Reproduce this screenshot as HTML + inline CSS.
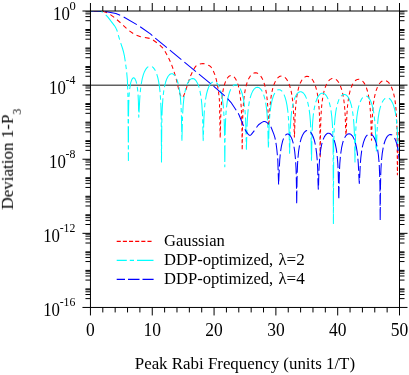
<!DOCTYPE html>
<html><head><meta charset="utf-8"><title>plot</title>
<style>
html,body{margin:0;padding:0;background:#fff;}
body{width:409px;height:375px;overflow:hidden;font-family:"Liberation Serif",serif;}
svg{display:block;}
text{font-family:"Liberation Serif",serif;fill:#000;}
</style></head><body>
<svg width="409" height="375" viewBox="0 0 409 375" style="will-change:transform">
<defs><clipPath id="clip"><rect x="90.45" y="11" width="309.05" height="296.45"/></clipPath></defs>
<rect x="0" y="0" width="409" height="375" fill="#fff"/>
<line x1="90.45" y1="85.22" x2="399.5" y2="85.22" stroke="#606060" stroke-width="1.5"/>
<g fill="none" stroke-width="1.05" stroke-linejoin="round" stroke-linecap="butt" clip-path="url(#clip)">
<path d="M93.81 11.01L98.64 11.06M102.53 11.32L106.4 12.45L107.08 12.76M110.37 14.66L114.19 17.33M116.99 19.77L120.5 22.75M123.19 25.28L126.47 28.44M129.34 30.82L133.19 33.46M136.52 35.3L139.9 36.57L141.03 36.85M144.87 37.49L149.6 38.38M153.04 40.02L156.84 42.71M159.79 45.01L162.4 47.54L162.99 48.23M164.97 51.16L167.03 54.92M168.6 57.98L170.36 61.8M171.64 64.9L173.05 68.75M174.09 71.86L175.29 75.7M176.2 78.81L177.14 82.62M177.81 85.68L178.65 89.47M179.42 92.55L179.9 94.07L180.95 96.38M183.18 96.93L184.76 93.1M185.85 89.99L187.08 86.14M188.13 83.03L189.4 79.18M190.52 76.07L192.25 72.25M193.82 69.19L194.9 67.37L195.9 66.07L196.36 65.63M199.84 64.05L201.4 63.69L202.9 63.61L204.59 63.82M208.21 65.14L209.9 66.06L210.4 66.45L210.9 66.98L211.66 68.03M213.31 71.07L214.94 74.9M215.91 78L216.82 81.81M217.44 84.86L218.07 88.59M218.47 91.56L218.89 95.19M219.2 98.11L219.4 100L219.43 101.58M219.49 104.27L219.56 107.58M219.62 110.26L219.69 113.58M219.74 116.26L219.81 119.58M219.87 122.26L219.94 125.58M219.99 128.26L220.06 131.57M220.12 134.26L220.19 137.57M220.26 135.73L220.35 132.38M220.42 129.67L220.51 126.33M220.57 123.63L220.66 120.3M220.72 117.6L220.85 114.2M220.96 111.44L221.14 107.98M221.32 105.16L221.59 101.62M221.87 98.71L222.31 95.07M222.76 92.08L223.48 88.32M224.25 85.24L225.57 81.39M227.16 78.35L228.45 76.77L229.55 75.95L230.65 75.55M234.07 76.89L235.32 78.47L236.45 80.52M237.66 83.63L238.72 87.45M239.36 90.51L239.97 94.23M240.35 97.19L240.73 100.8M240.97 103.67L241.21 107.18M241.38 110L241.52 113.42M241.64 116.19L241.73 119.53M241.79 122.23L241.87 125.57M241.93 128.25L241.97 131.51M242.01 134.14L242.05 137.4M242.08 140.03L242.12 143.28M242.15 145.92L242.19 149.17M242.22 148.19L242.27 144.93M242.3 142.29L242.35 139.02M242.38 136.38L242.42 133.12M242.46 130.48L242.5 127.22M242.54 124.57L242.64 121.2M242.72 118.48L242.82 115.12M242.94 112.36L243.11 108.91M243.28 106.09L243.54 102.56M243.81 99.66L244.22 96.04M244.64 93.05L245.31 89.32M246 86.25L247.14 82.41M248.39 79.31L249.85 76.69L250.64 75.62M253.48 73.27L254.84 72.85L256.17 72.85L257.5 73.25L258.06 73.55M260.71 76.07L262.15 78.38L262.84 79.8M264.03 82.9L265.12 86.73M265.79 89.8L266.43 93.53M266.84 96.5L267.23 100.12M267.5 103.01L267.75 106.54M267.91 109.35L268.09 112.8M268.19 115.55L268.29 118.91M268.37 121.63L268.5 125.01M268.94 124.06L269.19 120.54M269.39 117.69L269.57 114.23M269.71 111.44L269.93 107.94M270.15 105.08L270.49 101.5M270.83 98.56L271.37 94.87M271.93 91.83L272.82 88.03M273.79 84.93L275.45 81.1M277.45 78.19L278.72 77.03L280 76.31L281.46 76.01M284.93 77.39L286.08 78.57L287.63 80.88M289.06 83.97L290.32 87.81M291.07 90.89L291.8 94.65M292.25 97.64L292.69 101.28M292.97 104.19L293.25 107.73M293.45 110.58L293.62 114.02M293.75 116.81L293.85 120.17M293.93 122.89L294.03 126.25M294.11 128.97L294.22 132.35M294.31 135.08L294.42 137.55M294.51 134.81L294.62 131.43M294.71 128.69L294.81 125.33M294.89 122.62L294.99 119.26M295.08 116.52L295.25 113.07M295.4 110.27L295.65 106.75M295.9 103.87L296.27 100.26M296.66 97.3L297.27 93.58M297.9 90.52L298.93 86.7M300.06 83.59L301.5 80.71L302.06 79.83M304.58 77.21L305.69 76.61L306.98 76.31L308.27 76.41L309.11 76.7M311.95 79.04L313.1 80.71L314.17 82.74M315.39 85.85L316.5 89.68M317.17 92.74L317.82 96.47M318.23 99.45L318.63 103.07M318.89 105.97L319.14 109.49M319.31 112.3L319.48 115.75M319.59 118.51L319.69 121.87M319.77 124.59L319.86 127.94M319.9 130.58L319.94 133.83M319.97 136.45L320 139.7M320.03 142.32L320.06 145.57M320.09 148.19L320.13 151.43M320.16 154.06L320.19 157.3M320.22 156.07L320.26 152.82M320.29 150.19L320.33 146.94M320.36 144.31L320.4 141.06M320.43 138.43L320.47 135.18M320.5 132.55L320.56 129.25M320.64 126.54L320.73 123.18M320.81 120.46L320.96 117.04M321.1 114.25L321.31 110.76M321.52 107.91L321.85 104.33M322.19 101.39L322.72 97.7M323.26 94.67L324.13 90.88M325.07 87.78L326.33 84.63L326.67 83.94M328.57 80.99L329.88 79.67L331.17 78.85L332.36 78.47M336 79.42L337.29 80.6L338.58 82.29L338.9 82.79M340.41 85.86L341.74 89.71M342.54 92.79L343.29 96.56M343.77 99.56L344.22 103.21M344.52 106.13L344.81 109.68M345.01 112.53L345.19 115.98M345.33 118.77L345.44 122.15M345.51 124.86L345.61 128.22M345.71 130.96L345.96 134.49M346.2 132.64L346.32 131.3L346.38 129.2M346.46 126.49L346.55 123.13M346.63 120.41L346.79 116.97M346.93 114.18L347.16 110.68M347.39 107.81L347.73 104.22M348.09 101.28L348.64 97.58M349.21 94.54L350.14 90.74M351.15 87.63L352.38 84.78L352.89 83.82M355.03 80.96L356.2 80.01L357.48 79.4L358.75 79.2L359.25 79.23M362.53 81.01L363.85 82.61L365.03 84.6M366.38 87.69L367.57 91.53M368.3 94.61L368.99 98.36M369.42 101.34L369.85 104.98M370.12 107.88L370.39 111.41M370.57 114.24L370.74 117.69M370.87 120.47L370.97 123.83M371.05 126.54L371.14 129.9M371.23 132.63L371.35 136.02M371.45 138.76L371.5 140.3L371.58 138.43M371.69 135.67L371.83 132.25M371.91 129.54L372.01 126.18M372.09 123.46L372.21 120.07M372.35 117.28L372.55 113.8M372.75 110.96L373.06 107.39M373.37 104.47L373.86 100.8M374.36 97.79L375.16 94.01M376.01 90.91L377.45 87.07M379.12 84.04L380.56 82.26L381.86 81.21L382.37 80.92M386.12 80.73L387.36 81.43L388.66 82.6L389.54 83.69M391.28 86.7L392.77 90.54M393.65 93.64L394.48 97.43M394.99 100.44L395.49 104.12M395.81 107.05L396.13 110.62M396.33 113.47L396.53 116.94M396.67 119.73L396.8 123.14M396.88 125.85L396.98 129.21M397.06 131.93L397.1 135.17M397.12 137.77L397.14 140.99M397.16 143.59L397.19 146.8M397.21 149.4L397.23 152.62M397.25 155.22L397.27 158.43M397.29 161.03L397.32 164.24M397.34 166.84L397.36 170.06M397.38 172.66L397.4 174.8L397.42 173.7M397.47 171.03L397.53 167.74M397.57 165.07L397.63 161.78M397.68 159.11L397.74 155.82M397.79 153.15L397.85 149.85M397.89 147.19L397.95 143.89M398 141.23L398.06 137.93M398.11 135.27L398.16 131.97" stroke="#f00"/>
<path d="M90.4 11L93.37 11.01M97.42 11.08L99.4 11.23L101.9 11.84L102.89 12.27M105.77 14.86L107.9 17.16L114.4 25.6L115.9 28.1L116.9 30.27L117.37 31.69M118.31 35.03L119.62 39.71M120.74 43.05L122.4 48L123.4 51.49L124.4 55.8L125.26 61.32M125.71 64.58L126.32 69.14M126.68 72.38L127.4 80.2L127.72 89.57M127.82 92.64L127.94 96.9M128 99.92L128.11 116.14M128.13 119.09L128.15 123.21M128.17 126.16L128.28 142.37M128.3 145.32L128.33 149.45M128.35 152.39L128.4 160.4L128.42 152.29M128.43 149.38L128.44 145.3M128.45 142.38L128.5 126.36M128.5 123.44L128.52 119.36M128.52 116.45L128.66 106.47L128.87 99.87M129.02 96.76L129.32 92.34M129.64 89.13L130.74 82.66L131.91 79.34L132.82 78.12L133.47 77.81L134.12 77.94L134.9 78.69L135.94 80.89L136.69 83.63M137.27 86.93L137.8 91.46M138.05 94.64L138.41 101.92L138.62 111.48M138.68 114.49L138.8 117.2L138.89 115.55M139.07 112.42L139.65 100.56L139.99 95.25M140.25 92.07L140.73 87.56M141.18 84.3L142.21 78.81L143.34 74.65L144.48 71.68L145.89 69.07L147.03 67.65L148.29 66.64M152.09 66.69L153.27 67.65L154.41 69.07L155.39 70.77M156.77 74.08L157.81 77.63L158.66 81.56L159.51 87.09L160.06 92.15M160.31 95.33L160.6 99.73M160.75 102.84L160.93 107.06L161.23 119.6M161.24 122.55L161.27 126.67M161.29 129.62L161.4 145.82M161.41 148.77L161.44 152.9M161.46 155.84L161.5 162L161.57 151.94M161.59 148.99L161.62 144.86M161.64 141.91L161.76 125.67M161.83 122.64L161.92 118.4M161.99 115.37L162.26 108.16L162.93 98.2M163.25 94.99L163.85 90.44M164.42 87.14L165.58 82.25L166.85 78.67L168.13 76.27L169.41 74.73L170.43 74.01L171.44 73.71L172.47 73.81L173.49 74.32L174.5 75.25L174.99 75.87M176.72 79.1L177.82 82.25L178.23 83.77M178.97 87.1L179.86 92.6L180.37 97.11L180.95 104.81M181.12 107.93L181.3 112.26M181.41 115.33L181.75 131.94M181.79 134.94L181.86 139.15M181.92 140.64L182.33 123.94M182.4 120.9L182.55 116.61M182.68 113.52L183.23 104.8L183.76 99.49L184.24 95.98M184.8 92.69L185.87 88.03M186.98 84.69L188.29 81.91L189.62 80.05L190.69 79.12L191.75 78.61L192.82 78.51L193.88 78.81L194.95 79.53L196.01 80.7L197.34 82.91L198.41 85.45L199.1 87.58M199.94 90.92L200.8 95.55M201.25 98.81L201.87 104.8L202.4 112.96L202.53 116.19M202.66 119.28L202.76 123.53M202.84 126.57L203.2 140.6L203.31 137.86M203.43 134.78L203.55 130.51M203.62 127.47L203.74 122.66L204.01 116.16L204.36 110.47M204.62 107.29L205.08 102.79M205.52 99.53L206.44 94.41L207.52 90.25L208.87 86.67L210.22 84.27L211.57 82.73L212.7 81.99M216.4 82.7L217.51 83.9L218.86 86.11L219.29 87.02M220.51 90.35L221.56 94.41L222.37 98.77L223.18 105.11L223.48 108.36M223.72 111.53L223.98 115.92M224.11 119.01L224.26 122.66L224.55 135.72M224.57 138.68L224.6 142.82M224.63 145.78L224.76 162.05M224.79 165.01L224.8 166.8L224.82 164.44M224.85 161.48L225 145.18M225.02 142.21L225.06 138.06M225.11 135.06L225.34 125.76L225.67 118.21M225.86 115.07L226.19 110.63M226.51 107.42L227.23 101.87L228.31 96.33L229.39 92.52L230.71 89.27M232.8 86.18L233.98 85.25L235.06 84.85L236.14 84.85L237.22 85.25L237.77 85.62M240.12 88.56L241.27 91.03L242.35 94.26L243.43 98.81L244.24 103.7L244.61 106.72M244.94 109.93L245.3 114.38M245.49 117.52L245.86 125.76L246.07 134.39M246.14 137.43L246.23 141.66M246.3 144.69L246.4 149.2L246.73 136.98M246.81 133.94L246.91 129.69M247.01 126.62L247.22 121.66L247.78 113.5L248.2 109.3M248.61 106.05L249.38 101.44M250.13 98.12L251.35 94.15L252.72 91.09L254.1 89.06L255.2 88.01L256.3 87.4L257.4 87.2L258.5 87.4L259.6 88.01L260.7 89.06L261.8 90.61L262.24 91.39M263.65 94.7L264.98 99.38M265.66 102.7L266.47 108.19L267.02 113.5L267.5 120.36M267.65 123.47L267.83 127.8M267.92 130.84L268.38 147.6M268.49 146.12L268.66 141.8M268.73 138.76L268.93 130.56L269.32 121.89M269.51 118.75L269.87 114.3M270.2 111.08L271.05 105.06L272.11 100.05L273.44 95.83L274.81 92.93M277.32 90.11L278.47 89.65L279.53 89.65L280.59 90.05L281.65 90.87L282.16 91.44M284.05 94.61L285.1 97.32L286.16 101.13L286.95 105.06L287.75 110.59L287.98 112.75M288.28 115.95L288.59 120.37M288.77 123.51L289.07 130.56L289.3 140.33M289.37 143.36L289.47 147.6M289.54 150.64L289.6 153.2L289.99 139.01M290.07 135.98L290.19 131.71M290.32 128.61L290.7 121.56L291.24 115.11L291.72 111.17M292.21 107.89L293.15 103.25M294.09 99.91L295.35 96.67L296.72 94.27L297.81 92.97L298.91 92.15L300 91.75L301.1 91.75L302.19 92.15L303.29 92.97L304.38 94.27L305.48 96.11L306.55 98.6M307.61 101.94L308.66 106.6M309.2 109.89L309.86 115.11L310.4 121.56L310.73 127.4M310.86 130.49L311 134.78M311.08 137.82L311.39 154.4M311.44 157.4L311.51 160.8M311.56 157.8L311.87 141.22M311.95 138.18L312.05 133.93M312.18 130.84L312.6 122.96L313.14 116.51L313.5 113.43M313.97 110.17L314.85 105.54M315.72 102.2L316.98 98.68L318.34 96.07L319.71 94.37L320.81 93.55L321.9 93.15L323 93.15L324.09 93.55L325.19 94.37L326.28 95.67L327.38 97.51L328.11 99.11M329.26 102.45L330.12 105.81L330.39 107.12M330.97 110.42L331.76 116.51L332.3 122.96L332.6 127.98M332.73 131.07L332.88 135.38M332.96 138.41L333.13 145.2L333.16 154.74M333.17 157.66L333.18 161.75M333.19 164.67L333.25 180.74M333.26 183.66L333.28 187.75M333.29 190.67L333.34 206.73M333.35 209.65L333.37 213.74M333.38 216.66L333.4 223.4L333.43 214.07M333.44 211.15L333.46 207.06M333.47 204.14L333.52 188.07M333.53 185.15L333.55 181.06M333.56 178.14L333.62 162.07M333.63 159.15L333.64 155.06M333.65 152.14L333.67 146.5L333.93 135.67M334.06 132.58L334.25 128.24M334.43 125.11L335.02 117.81L335.83 111.47L336.59 107.33M337.41 103.99L338.53 100.63L339.09 99.33M341.03 96.17L342.31 95.02L343.39 94.51L344.47 94.41L345.55 94.71L346.63 95.43L347.71 96.6L349.06 98.81L350.14 101.35L351.22 104.85L351.95 108M352.54 111.31L353.16 115.87M353.5 119.09L353.92 124.26L354.19 128.86L354.48 136.28M354.56 139.32L354.66 143.57M354.73 146.6L355 162L355.02 160.85M355.08 157.83L355.16 153.61M355.22 150.6L355.53 136.96L355.66 133.87M355.78 130.78L356.03 126.4M356.26 123.24L356.86 116.99L357.65 111.46L358.71 106.45L359.03 105.28M360.15 101.94L361.36 99.41L362.74 97.49M366.25 96.08L367.19 96.45L368.25 97.27L369.31 98.57L370.63 100.97L371.69 103.72L372.75 107.53L373.55 111.46L373.85 113.31M374.29 116.57L374.76 121.08M375.02 124.26L375.4 130.46L375.67 136.96L375.77 141.28M375.84 144.31L375.97 148.58M376.22 151.44L376.47 149.8L376.75 138.66L376.92 134.54M377.07 131.44L377.34 127.04M377.59 123.86L378.12 118.69L378.95 113.16L380.05 108.15L380.74 105.82M382.06 102.5L383.35 100.27L384.45 98.97L385.23 98.35M389 98.24L390.22 99.25L391.32 100.67L392.43 102.67L393.52 105.42L394.62 109.23L395.45 113.16L395.9 115.94M396.33 119.2L396.8 123.7M397.05 126.88L397.38 132.16L397.65 138.66L397.78 143.88M397.85 146.92L397.93 149.8L398.2 150" stroke="#0ff"/>
<path d="M90.4 11L101.2 11.12M105.23 11.45L115.9 13.47L120.16 15.16M123.7 16.97L136.84 24.61M140.16 26.74L150.4 33.92L152.35 35.57M155.23 38.18L166.86 47.61M169.86 50.11L181.36 59.67M184.37 62.16L195.93 71.66M198.96 74.13L210.53 83.63M213.52 86.14L224.71 95.98M227.54 98.64L230.9 102.28L236.2 110.18M238.24 113.3L239.4 115.82L243.51 126.02M244.92 129.33L245.9 131.16L247.9 133.91L248.4 134.46L248.9 134.91L249.4 135.2L249.9 135.3L250.4 135.19L250.9 134.89L251.4 134.44L254.36 130.61M256.49 127.52L257.9 125.52L258.9 124.48L261.9 122.36L262.9 121.87L263.9 121.57L264.9 121.52L265.4 121.66L266.4 122.19L268.46 123.82M270.82 126.77L271.4 127.94L273.9 134.38L274.9 137.61L275.34 139.53M275.93 142.83L276.4 146L276.9 150.19L277.39 155.23M277.66 158.42L277.8 160L278.13 170.23M278.23 173.29L278.61 184.56M278.75 181.46L279.24 169.61M279.37 166.52L279.73 160.3L280.25 154.4M280.62 151.17L281.54 145.53L282.67 140.95L283.55 138.46M285.39 135.28L286.29 134.45L287.2 134.05L288.1 134.05L289.01 134.45L289.91 135.27L291.04 136.97L292.18 139.58L293.29 143.39M293.99 146.71L294.66 151.07L295.48 159.12M295.69 162.27L296.02 168.46L296.22 174.15M296.29 177.18L296.51 188.73M296.54 191.71L296.69 203.15M296.73 201.86L296.87 190.42M296.91 187.44L297.13 175.88M297.21 172.85L297.51 164.96L297.74 160.97M297.97 157.8L298.59 151.49L299.51 145.38M300.2 142.06L301.29 138.22L302.64 134.91L303.99 132.7L305.07 131.53L306.15 130.81L307.08 130.53M310.53 132.12L311.82 133.91L313.17 136.73L314.25 139.96L315.36 144.69M315.93 147.99L316.68 153.91L317.22 160.31M317.4 163.45L317.76 171.46L317.85 175.25M317.93 178.29L318.03 182.6L318.3 189.3L318.35 188.54M318.55 185.39L318.83 173.76M318.95 170.67L319.32 163.06L319.66 158.67M319.96 155.46L320.61 150.27L321.63 144.73L322.09 142.87M323.14 139.53L324.45 136.61L325.73 134.75L326.76 133.82L327.78 133.31L328.81 133.21L329.83 133.51L330.86 134.23L331.88 135.4L332.76 136.82M334.18 140.12L335.21 143.65L336.24 148.66L336.84 152.8M337.2 156.04L337.78 163.06L338.05 168.14M338.17 171.22L338.49 182.89M338.55 185.92L338.76 197.46M338.82 198.32L339.04 186.77M339.1 183.74L339.41 172.08M339.54 168.99L339.82 163.56L340.36 156.91M340.72 153.68L341.62 147.71L342.64 143.16L343.29 141.01M344.64 137.69L345.98 135.56L347 134.51L348.03 133.9L349.05 133.7L350.07 133.9L351.1 134.51L352.12 135.56L353.41 137.59L354.32 139.64M355.41 142.99L356.48 147.71L357.25 152.6L357.6 155.59M357.91 158.8L358.28 163.56L358.64 170.82M358.76 173.9L359.3 183.5L359.44 181.09M359.63 177.96L359.82 174.76L360.21 166.04M360.4 162.9L360.87 157.21L361.7 150.57M362.28 147.27L363.48 142.35L364.79 138.77L366.09 136.37L367.42 134.81M371.1 134.14L372.1 134.83L373.15 136L374.45 138.21L375.76 141.52L377.01 146.27M377.64 149.58L378.37 154.79L379.03 161.94M379.24 165.09L379.73 176.93M379.8 179.96L379.94 185.9L379.98 191.44M380 194.4L380.09 205.72M380.11 208.68L380.2 220M380.22 218.25L380.3 206.92M380.32 203.97L380.41 192.65M380.43 189.69L380.65 178.16M380.72 175.12L380.96 168.96L381.3 163.2M381.54 160.03L382.24 153.4L383.19 147.57M383.95 144.24L385.05 140.73L386.32 137.91L387.6 136.05L388.62 135.12L389.63 134.61L390.66 134.51L391.68 134.81L392.21 135.14M394.57 138.07L395.75 140.73L396.78 143.96L397.8 148.51L398.18 150.79M398.64 154.06L399.33 160.8" stroke="#00f"/>
</g>
<rect x="90.45" y="11" width="309.05" height="296.45" fill="none" stroke="#000" stroke-width="1"/>
<line x1="90.45" y1="307.45" x2="90.45" y2="315.45" stroke="#000" stroke-width="1"/>
<line x1="90.45" y1="11" x2="90.45" y2="3" stroke="#000" stroke-width="1"/>
<line x1="102.81" y1="307.45" x2="102.81" y2="312.45" stroke="#000" stroke-width="1"/>
<line x1="102.81" y1="11" x2="102.81" y2="6" stroke="#000" stroke-width="1"/>
<line x1="115.17" y1="307.45" x2="115.17" y2="312.45" stroke="#000" stroke-width="1"/>
<line x1="115.17" y1="11" x2="115.17" y2="6" stroke="#000" stroke-width="1"/>
<line x1="127.54" y1="307.45" x2="127.54" y2="312.45" stroke="#000" stroke-width="1"/>
<line x1="127.54" y1="11" x2="127.54" y2="6" stroke="#000" stroke-width="1"/>
<line x1="139.9" y1="307.45" x2="139.9" y2="312.45" stroke="#000" stroke-width="1"/>
<line x1="139.9" y1="11" x2="139.9" y2="6" stroke="#000" stroke-width="1"/>
<line x1="152.26" y1="307.45" x2="152.26" y2="315.45" stroke="#000" stroke-width="1"/>
<line x1="152.26" y1="11" x2="152.26" y2="3" stroke="#000" stroke-width="1"/>
<line x1="164.62" y1="307.45" x2="164.62" y2="312.45" stroke="#000" stroke-width="1"/>
<line x1="164.62" y1="11" x2="164.62" y2="6" stroke="#000" stroke-width="1"/>
<line x1="176.98" y1="307.45" x2="176.98" y2="312.45" stroke="#000" stroke-width="1"/>
<line x1="176.98" y1="11" x2="176.98" y2="6" stroke="#000" stroke-width="1"/>
<line x1="189.35" y1="307.45" x2="189.35" y2="312.45" stroke="#000" stroke-width="1"/>
<line x1="189.35" y1="11" x2="189.35" y2="6" stroke="#000" stroke-width="1"/>
<line x1="201.71" y1="307.45" x2="201.71" y2="312.45" stroke="#000" stroke-width="1"/>
<line x1="201.71" y1="11" x2="201.71" y2="6" stroke="#000" stroke-width="1"/>
<line x1="214.07" y1="307.45" x2="214.07" y2="315.45" stroke="#000" stroke-width="1"/>
<line x1="214.07" y1="11" x2="214.07" y2="3" stroke="#000" stroke-width="1"/>
<line x1="226.43" y1="307.45" x2="226.43" y2="312.45" stroke="#000" stroke-width="1"/>
<line x1="226.43" y1="11" x2="226.43" y2="6" stroke="#000" stroke-width="1"/>
<line x1="238.79" y1="307.45" x2="238.79" y2="312.45" stroke="#000" stroke-width="1"/>
<line x1="238.79" y1="11" x2="238.79" y2="6" stroke="#000" stroke-width="1"/>
<line x1="251.16" y1="307.45" x2="251.16" y2="312.45" stroke="#000" stroke-width="1"/>
<line x1="251.16" y1="11" x2="251.16" y2="6" stroke="#000" stroke-width="1"/>
<line x1="263.52" y1="307.45" x2="263.52" y2="312.45" stroke="#000" stroke-width="1"/>
<line x1="263.52" y1="11" x2="263.52" y2="6" stroke="#000" stroke-width="1"/>
<line x1="275.88" y1="307.45" x2="275.88" y2="315.45" stroke="#000" stroke-width="1"/>
<line x1="275.88" y1="11" x2="275.88" y2="3" stroke="#000" stroke-width="1"/>
<line x1="288.24" y1="307.45" x2="288.24" y2="312.45" stroke="#000" stroke-width="1"/>
<line x1="288.24" y1="11" x2="288.24" y2="6" stroke="#000" stroke-width="1"/>
<line x1="300.6" y1="307.45" x2="300.6" y2="312.45" stroke="#000" stroke-width="1"/>
<line x1="300.6" y1="11" x2="300.6" y2="6" stroke="#000" stroke-width="1"/>
<line x1="312.97" y1="307.45" x2="312.97" y2="312.45" stroke="#000" stroke-width="1"/>
<line x1="312.97" y1="11" x2="312.97" y2="6" stroke="#000" stroke-width="1"/>
<line x1="325.33" y1="307.45" x2="325.33" y2="312.45" stroke="#000" stroke-width="1"/>
<line x1="325.33" y1="11" x2="325.33" y2="6" stroke="#000" stroke-width="1"/>
<line x1="337.69" y1="307.45" x2="337.69" y2="315.45" stroke="#000" stroke-width="1"/>
<line x1="337.69" y1="11" x2="337.69" y2="3" stroke="#000" stroke-width="1"/>
<line x1="350.05" y1="307.45" x2="350.05" y2="312.45" stroke="#000" stroke-width="1"/>
<line x1="350.05" y1="11" x2="350.05" y2="6" stroke="#000" stroke-width="1"/>
<line x1="362.41" y1="307.45" x2="362.41" y2="312.45" stroke="#000" stroke-width="1"/>
<line x1="362.41" y1="11" x2="362.41" y2="6" stroke="#000" stroke-width="1"/>
<line x1="374.78" y1="307.45" x2="374.78" y2="312.45" stroke="#000" stroke-width="1"/>
<line x1="374.78" y1="11" x2="374.78" y2="6" stroke="#000" stroke-width="1"/>
<line x1="387.14" y1="307.45" x2="387.14" y2="312.45" stroke="#000" stroke-width="1"/>
<line x1="387.14" y1="11" x2="387.14" y2="6" stroke="#000" stroke-width="1"/>
<line x1="399.5" y1="307.45" x2="399.5" y2="315.45" stroke="#000" stroke-width="1"/>
<line x1="399.5" y1="11" x2="399.5" y2="3" stroke="#000" stroke-width="1"/>
<line x1="90.45" y1="11" x2="82.45" y2="11" stroke="#000" stroke-width="1"/>
<line x1="399.5" y1="11" x2="407.5" y2="11" stroke="#000" stroke-width="1"/>
<line x1="90.45" y1="11.85" x2="85.45" y2="11.85" stroke="#000" stroke-width="1"/>
<line x1="399.5" y1="11.85" x2="404.5" y2="11.85" stroke="#000" stroke-width="1"/>
<line x1="90.45" y1="13.87" x2="85.45" y2="13.87" stroke="#000" stroke-width="1"/>
<line x1="399.5" y1="13.87" x2="404.5" y2="13.87" stroke="#000" stroke-width="1"/>
<line x1="90.45" y1="16.58" x2="85.45" y2="16.58" stroke="#000" stroke-width="1"/>
<line x1="399.5" y1="16.58" x2="404.5" y2="16.58" stroke="#000" stroke-width="1"/>
<line x1="90.45" y1="20.69" x2="85.45" y2="20.69" stroke="#000" stroke-width="1"/>
<line x1="399.5" y1="20.69" x2="404.5" y2="20.69" stroke="#000" stroke-width="1"/>
<line x1="90.45" y1="29.53" x2="85.45" y2="29.53" stroke="#000" stroke-width="1"/>
<line x1="399.5" y1="29.53" x2="404.5" y2="29.53" stroke="#000" stroke-width="1"/>
<line x1="90.45" y1="30.38" x2="85.45" y2="30.38" stroke="#000" stroke-width="1"/>
<line x1="399.5" y1="30.38" x2="404.5" y2="30.38" stroke="#000" stroke-width="1"/>
<line x1="90.45" y1="32.4" x2="85.45" y2="32.4" stroke="#000" stroke-width="1"/>
<line x1="399.5" y1="32.4" x2="404.5" y2="32.4" stroke="#000" stroke-width="1"/>
<line x1="90.45" y1="35.11" x2="85.45" y2="35.11" stroke="#000" stroke-width="1"/>
<line x1="399.5" y1="35.11" x2="404.5" y2="35.11" stroke="#000" stroke-width="1"/>
<line x1="90.45" y1="39.22" x2="85.45" y2="39.22" stroke="#000" stroke-width="1"/>
<line x1="399.5" y1="39.22" x2="404.5" y2="39.22" stroke="#000" stroke-width="1"/>
<line x1="90.45" y1="48.06" x2="85.45" y2="48.06" stroke="#000" stroke-width="1"/>
<line x1="399.5" y1="48.06" x2="404.5" y2="48.06" stroke="#000" stroke-width="1"/>
<line x1="90.45" y1="48.9" x2="85.45" y2="48.9" stroke="#000" stroke-width="1"/>
<line x1="399.5" y1="48.9" x2="404.5" y2="48.9" stroke="#000" stroke-width="1"/>
<line x1="90.45" y1="50.93" x2="85.45" y2="50.93" stroke="#000" stroke-width="1"/>
<line x1="399.5" y1="50.93" x2="404.5" y2="50.93" stroke="#000" stroke-width="1"/>
<line x1="90.45" y1="53.63" x2="85.45" y2="53.63" stroke="#000" stroke-width="1"/>
<line x1="399.5" y1="53.63" x2="404.5" y2="53.63" stroke="#000" stroke-width="1"/>
<line x1="90.45" y1="57.74" x2="85.45" y2="57.74" stroke="#000" stroke-width="1"/>
<line x1="399.5" y1="57.74" x2="404.5" y2="57.74" stroke="#000" stroke-width="1"/>
<line x1="90.45" y1="66.58" x2="85.45" y2="66.58" stroke="#000" stroke-width="1"/>
<line x1="399.5" y1="66.58" x2="404.5" y2="66.58" stroke="#000" stroke-width="1"/>
<line x1="90.45" y1="67.43" x2="85.45" y2="67.43" stroke="#000" stroke-width="1"/>
<line x1="399.5" y1="67.43" x2="404.5" y2="67.43" stroke="#000" stroke-width="1"/>
<line x1="90.45" y1="69.45" x2="85.45" y2="69.45" stroke="#000" stroke-width="1"/>
<line x1="399.5" y1="69.45" x2="404.5" y2="69.45" stroke="#000" stroke-width="1"/>
<line x1="90.45" y1="72.16" x2="85.45" y2="72.16" stroke="#000" stroke-width="1"/>
<line x1="399.5" y1="72.16" x2="404.5" y2="72.16" stroke="#000" stroke-width="1"/>
<line x1="90.45" y1="76.27" x2="85.45" y2="76.27" stroke="#000" stroke-width="1"/>
<line x1="399.5" y1="76.27" x2="404.5" y2="76.27" stroke="#000" stroke-width="1"/>
<line x1="90.45" y1="85.11" x2="82.45" y2="85.11" stroke="#000" stroke-width="1"/>
<line x1="399.5" y1="85.11" x2="407.5" y2="85.11" stroke="#000" stroke-width="1"/>
<line x1="90.45" y1="85.96" x2="85.45" y2="85.96" stroke="#000" stroke-width="1"/>
<line x1="399.5" y1="85.96" x2="404.5" y2="85.96" stroke="#000" stroke-width="1"/>
<line x1="90.45" y1="87.98" x2="85.45" y2="87.98" stroke="#000" stroke-width="1"/>
<line x1="399.5" y1="87.98" x2="404.5" y2="87.98" stroke="#000" stroke-width="1"/>
<line x1="90.45" y1="90.69" x2="85.45" y2="90.69" stroke="#000" stroke-width="1"/>
<line x1="399.5" y1="90.69" x2="404.5" y2="90.69" stroke="#000" stroke-width="1"/>
<line x1="90.45" y1="94.8" x2="85.45" y2="94.8" stroke="#000" stroke-width="1"/>
<line x1="399.5" y1="94.8" x2="404.5" y2="94.8" stroke="#000" stroke-width="1"/>
<line x1="90.45" y1="103.64" x2="85.45" y2="103.64" stroke="#000" stroke-width="1"/>
<line x1="399.5" y1="103.64" x2="404.5" y2="103.64" stroke="#000" stroke-width="1"/>
<line x1="90.45" y1="104.49" x2="85.45" y2="104.49" stroke="#000" stroke-width="1"/>
<line x1="399.5" y1="104.49" x2="404.5" y2="104.49" stroke="#000" stroke-width="1"/>
<line x1="90.45" y1="106.51" x2="85.45" y2="106.51" stroke="#000" stroke-width="1"/>
<line x1="399.5" y1="106.51" x2="404.5" y2="106.51" stroke="#000" stroke-width="1"/>
<line x1="90.45" y1="109.22" x2="85.45" y2="109.22" stroke="#000" stroke-width="1"/>
<line x1="399.5" y1="109.22" x2="404.5" y2="109.22" stroke="#000" stroke-width="1"/>
<line x1="90.45" y1="113.33" x2="85.45" y2="113.33" stroke="#000" stroke-width="1"/>
<line x1="399.5" y1="113.33" x2="404.5" y2="113.33" stroke="#000" stroke-width="1"/>
<line x1="90.45" y1="122.17" x2="85.45" y2="122.17" stroke="#000" stroke-width="1"/>
<line x1="399.5" y1="122.17" x2="404.5" y2="122.17" stroke="#000" stroke-width="1"/>
<line x1="90.45" y1="123.02" x2="85.45" y2="123.02" stroke="#000" stroke-width="1"/>
<line x1="399.5" y1="123.02" x2="404.5" y2="123.02" stroke="#000" stroke-width="1"/>
<line x1="90.45" y1="125.04" x2="85.45" y2="125.04" stroke="#000" stroke-width="1"/>
<line x1="399.5" y1="125.04" x2="404.5" y2="125.04" stroke="#000" stroke-width="1"/>
<line x1="90.45" y1="127.75" x2="85.45" y2="127.75" stroke="#000" stroke-width="1"/>
<line x1="399.5" y1="127.75" x2="404.5" y2="127.75" stroke="#000" stroke-width="1"/>
<line x1="90.45" y1="131.86" x2="85.45" y2="131.86" stroke="#000" stroke-width="1"/>
<line x1="399.5" y1="131.86" x2="404.5" y2="131.86" stroke="#000" stroke-width="1"/>
<line x1="90.45" y1="140.7" x2="85.45" y2="140.7" stroke="#000" stroke-width="1"/>
<line x1="399.5" y1="140.7" x2="404.5" y2="140.7" stroke="#000" stroke-width="1"/>
<line x1="90.45" y1="141.54" x2="85.45" y2="141.54" stroke="#000" stroke-width="1"/>
<line x1="399.5" y1="141.54" x2="404.5" y2="141.54" stroke="#000" stroke-width="1"/>
<line x1="90.45" y1="143.57" x2="85.45" y2="143.57" stroke="#000" stroke-width="1"/>
<line x1="399.5" y1="143.57" x2="404.5" y2="143.57" stroke="#000" stroke-width="1"/>
<line x1="90.45" y1="146.27" x2="85.45" y2="146.27" stroke="#000" stroke-width="1"/>
<line x1="399.5" y1="146.27" x2="404.5" y2="146.27" stroke="#000" stroke-width="1"/>
<line x1="90.45" y1="150.38" x2="85.45" y2="150.38" stroke="#000" stroke-width="1"/>
<line x1="399.5" y1="150.38" x2="404.5" y2="150.38" stroke="#000" stroke-width="1"/>
<line x1="90.45" y1="159.22" x2="82.45" y2="159.22" stroke="#000" stroke-width="1"/>
<line x1="399.5" y1="159.22" x2="407.5" y2="159.22" stroke="#000" stroke-width="1"/>
<line x1="90.45" y1="160.07" x2="85.45" y2="160.07" stroke="#000" stroke-width="1"/>
<line x1="399.5" y1="160.07" x2="404.5" y2="160.07" stroke="#000" stroke-width="1"/>
<line x1="90.45" y1="162.1" x2="85.45" y2="162.1" stroke="#000" stroke-width="1"/>
<line x1="399.5" y1="162.1" x2="404.5" y2="162.1" stroke="#000" stroke-width="1"/>
<line x1="90.45" y1="164.8" x2="85.45" y2="164.8" stroke="#000" stroke-width="1"/>
<line x1="399.5" y1="164.8" x2="404.5" y2="164.8" stroke="#000" stroke-width="1"/>
<line x1="90.45" y1="168.91" x2="85.45" y2="168.91" stroke="#000" stroke-width="1"/>
<line x1="399.5" y1="168.91" x2="404.5" y2="168.91" stroke="#000" stroke-width="1"/>
<line x1="90.45" y1="177.75" x2="85.45" y2="177.75" stroke="#000" stroke-width="1"/>
<line x1="399.5" y1="177.75" x2="404.5" y2="177.75" stroke="#000" stroke-width="1"/>
<line x1="90.45" y1="178.6" x2="85.45" y2="178.6" stroke="#000" stroke-width="1"/>
<line x1="399.5" y1="178.6" x2="404.5" y2="178.6" stroke="#000" stroke-width="1"/>
<line x1="90.45" y1="180.62" x2="85.45" y2="180.62" stroke="#000" stroke-width="1"/>
<line x1="399.5" y1="180.62" x2="404.5" y2="180.62" stroke="#000" stroke-width="1"/>
<line x1="90.45" y1="183.33" x2="85.45" y2="183.33" stroke="#000" stroke-width="1"/>
<line x1="399.5" y1="183.33" x2="404.5" y2="183.33" stroke="#000" stroke-width="1"/>
<line x1="90.45" y1="187.44" x2="85.45" y2="187.44" stroke="#000" stroke-width="1"/>
<line x1="399.5" y1="187.44" x2="404.5" y2="187.44" stroke="#000" stroke-width="1"/>
<line x1="90.45" y1="196.28" x2="85.45" y2="196.28" stroke="#000" stroke-width="1"/>
<line x1="399.5" y1="196.28" x2="404.5" y2="196.28" stroke="#000" stroke-width="1"/>
<line x1="90.45" y1="197.13" x2="85.45" y2="197.13" stroke="#000" stroke-width="1"/>
<line x1="399.5" y1="197.13" x2="404.5" y2="197.13" stroke="#000" stroke-width="1"/>
<line x1="90.45" y1="199.15" x2="85.45" y2="199.15" stroke="#000" stroke-width="1"/>
<line x1="399.5" y1="199.15" x2="404.5" y2="199.15" stroke="#000" stroke-width="1"/>
<line x1="90.45" y1="201.86" x2="85.45" y2="201.86" stroke="#000" stroke-width="1"/>
<line x1="399.5" y1="201.86" x2="404.5" y2="201.86" stroke="#000" stroke-width="1"/>
<line x1="90.45" y1="205.97" x2="85.45" y2="205.97" stroke="#000" stroke-width="1"/>
<line x1="399.5" y1="205.97" x2="404.5" y2="205.97" stroke="#000" stroke-width="1"/>
<line x1="90.45" y1="214.81" x2="85.45" y2="214.81" stroke="#000" stroke-width="1"/>
<line x1="399.5" y1="214.81" x2="404.5" y2="214.81" stroke="#000" stroke-width="1"/>
<line x1="90.45" y1="215.66" x2="85.45" y2="215.66" stroke="#000" stroke-width="1"/>
<line x1="399.5" y1="215.66" x2="404.5" y2="215.66" stroke="#000" stroke-width="1"/>
<line x1="90.45" y1="217.68" x2="85.45" y2="217.68" stroke="#000" stroke-width="1"/>
<line x1="399.5" y1="217.68" x2="404.5" y2="217.68" stroke="#000" stroke-width="1"/>
<line x1="90.45" y1="220.39" x2="85.45" y2="220.39" stroke="#000" stroke-width="1"/>
<line x1="399.5" y1="220.39" x2="404.5" y2="220.39" stroke="#000" stroke-width="1"/>
<line x1="90.45" y1="224.5" x2="85.45" y2="224.5" stroke="#000" stroke-width="1"/>
<line x1="399.5" y1="224.5" x2="404.5" y2="224.5" stroke="#000" stroke-width="1"/>
<line x1="90.45" y1="233.34" x2="82.45" y2="233.34" stroke="#000" stroke-width="1"/>
<line x1="399.5" y1="233.34" x2="407.5" y2="233.34" stroke="#000" stroke-width="1"/>
<line x1="90.45" y1="234.19" x2="85.45" y2="234.19" stroke="#000" stroke-width="1"/>
<line x1="399.5" y1="234.19" x2="404.5" y2="234.19" stroke="#000" stroke-width="1"/>
<line x1="90.45" y1="236.21" x2="85.45" y2="236.21" stroke="#000" stroke-width="1"/>
<line x1="399.5" y1="236.21" x2="404.5" y2="236.21" stroke="#000" stroke-width="1"/>
<line x1="90.45" y1="238.92" x2="85.45" y2="238.92" stroke="#000" stroke-width="1"/>
<line x1="399.5" y1="238.92" x2="404.5" y2="238.92" stroke="#000" stroke-width="1"/>
<line x1="90.45" y1="243.03" x2="85.45" y2="243.03" stroke="#000" stroke-width="1"/>
<line x1="399.5" y1="243.03" x2="404.5" y2="243.03" stroke="#000" stroke-width="1"/>
<line x1="90.45" y1="251.87" x2="85.45" y2="251.87" stroke="#000" stroke-width="1"/>
<line x1="399.5" y1="251.87" x2="404.5" y2="251.87" stroke="#000" stroke-width="1"/>
<line x1="90.45" y1="252.71" x2="85.45" y2="252.71" stroke="#000" stroke-width="1"/>
<line x1="399.5" y1="252.71" x2="404.5" y2="252.71" stroke="#000" stroke-width="1"/>
<line x1="90.45" y1="254.74" x2="85.45" y2="254.74" stroke="#000" stroke-width="1"/>
<line x1="399.5" y1="254.74" x2="404.5" y2="254.74" stroke="#000" stroke-width="1"/>
<line x1="90.45" y1="257.44" x2="85.45" y2="257.44" stroke="#000" stroke-width="1"/>
<line x1="399.5" y1="257.44" x2="404.5" y2="257.44" stroke="#000" stroke-width="1"/>
<line x1="90.45" y1="261.55" x2="85.45" y2="261.55" stroke="#000" stroke-width="1"/>
<line x1="399.5" y1="261.55" x2="404.5" y2="261.55" stroke="#000" stroke-width="1"/>
<line x1="90.45" y1="270.39" x2="85.45" y2="270.39" stroke="#000" stroke-width="1"/>
<line x1="399.5" y1="270.39" x2="404.5" y2="270.39" stroke="#000" stroke-width="1"/>
<line x1="90.45" y1="271.24" x2="85.45" y2="271.24" stroke="#000" stroke-width="1"/>
<line x1="399.5" y1="271.24" x2="404.5" y2="271.24" stroke="#000" stroke-width="1"/>
<line x1="90.45" y1="273.26" x2="85.45" y2="273.26" stroke="#000" stroke-width="1"/>
<line x1="399.5" y1="273.26" x2="404.5" y2="273.26" stroke="#000" stroke-width="1"/>
<line x1="90.45" y1="275.97" x2="85.45" y2="275.97" stroke="#000" stroke-width="1"/>
<line x1="399.5" y1="275.97" x2="404.5" y2="275.97" stroke="#000" stroke-width="1"/>
<line x1="90.45" y1="280.08" x2="85.45" y2="280.08" stroke="#000" stroke-width="1"/>
<line x1="399.5" y1="280.08" x2="404.5" y2="280.08" stroke="#000" stroke-width="1"/>
<line x1="90.45" y1="288.92" x2="85.45" y2="288.92" stroke="#000" stroke-width="1"/>
<line x1="399.5" y1="288.92" x2="404.5" y2="288.92" stroke="#000" stroke-width="1"/>
<line x1="90.45" y1="289.77" x2="85.45" y2="289.77" stroke="#000" stroke-width="1"/>
<line x1="399.5" y1="289.77" x2="404.5" y2="289.77" stroke="#000" stroke-width="1"/>
<line x1="90.45" y1="291.79" x2="85.45" y2="291.79" stroke="#000" stroke-width="1"/>
<line x1="399.5" y1="291.79" x2="404.5" y2="291.79" stroke="#000" stroke-width="1"/>
<line x1="90.45" y1="294.5" x2="85.45" y2="294.5" stroke="#000" stroke-width="1"/>
<line x1="399.5" y1="294.5" x2="404.5" y2="294.5" stroke="#000" stroke-width="1"/>
<line x1="90.45" y1="298.61" x2="85.45" y2="298.61" stroke="#000" stroke-width="1"/>
<line x1="399.5" y1="298.61" x2="404.5" y2="298.61" stroke="#000" stroke-width="1"/>
<line x1="90.45" y1="307.45" x2="82.45" y2="307.45" stroke="#000" stroke-width="1"/>
<line x1="399.5" y1="307.45" x2="407.5" y2="307.45" stroke="#000" stroke-width="1"/>
<g fill="none" stroke-width="1.25">
<path d="M116.7 241.3H153.6" stroke="#f00" stroke-dasharray="4.1 2.05"/>
<path d="M116.7 260.4H153.6" stroke="#0ff" stroke-dasharray="16.5 3 4.2 3" stroke-dashoffset="6.4"/>
<path d="M116.7 279.4H153.6" stroke="#00f" stroke-dasharray="11.5 3" stroke-dashoffset="3.2"/>
</g>
<g style="filter:grayscale(1)">
<text transform="translate(69.8 19.55) scale(1 1.1)" text-anchor="end" font-size="16.8">10</text>
<text transform="translate(75.9 9.65) scale(1 0.98)" text-anchor="end" font-size="12.6">0</text>
<text transform="translate(65.87 93.6) scale(1 1.1)" text-anchor="end" font-size="16.8">10</text>
<text transform="translate(75.4 83.7) scale(1 1.06)" text-anchor="end" font-size="11.8">-4</text>
<text transform="translate(65.87 168.15) scale(1 1.1)" text-anchor="end" font-size="16.8">10</text>
<text transform="translate(75.4 158.25) scale(1 1.06)" text-anchor="end" font-size="11.8">-8</text>
<text transform="translate(59.97 241.9) scale(1 1.1)" text-anchor="end" font-size="16.8">10</text>
<text transform="translate(75.4 232) scale(1 1.06)" text-anchor="end" font-size="11.8">-12</text>
<text transform="translate(59.97 315.8) scale(1 1.1)" text-anchor="end" font-size="16.8">10</text>
<text transform="translate(75.4 305.9) scale(1 1.06)" text-anchor="end" font-size="11.8">-16</text>
<text transform="translate(90.45 336.1) scale(1 1.09)" text-anchor="middle" font-size="17.5">0</text>
<text transform="translate(152.26 336.1) scale(1 1.09)" text-anchor="middle" font-size="17.5">10</text>
<text transform="translate(214.07 336.1) scale(1 1.09)" text-anchor="middle" font-size="17.5">20</text>
<text transform="translate(275.88 336.1) scale(1 1.09)" text-anchor="middle" font-size="17.5">30</text>
<text transform="translate(337.69 336.1) scale(1 1.09)" text-anchor="middle" font-size="17.5">40</text>
<text transform="translate(399.5 336.1) scale(1 1.09)" text-anchor="middle" font-size="17.5">50</text>
<text x="244.9" y="369.4" text-anchor="middle" font-size="16.9" textLength="220.3" lengthAdjust="spacing">Peak Rabi Frequency (units 1/T)</text>
<g transform="translate(12.9 209.5) rotate(-90)"><text x="0" y="0" font-size="17">Deviation 1-P</text><text x="95.1" y="8.4" font-size="11.6">3</text></g>
<text x="164" y="246.1" font-size="16.6">Gaussian</text>
<text x="164" y="265" font-size="16.6">DDP-optimized,</text>
<text x="282.6" y="265" font-size="16.6" text-anchor="middle">λ</text>
<text x="286.6" y="265" font-size="16.6" textLength="18.2" lengthAdjust="spacingAndGlyphs">=2</text>
<text x="164" y="283.7" font-size="16.6">DDP-optimized,</text>
<text x="282.6" y="283.7" font-size="16.6" text-anchor="middle">λ</text>
<text x="286.6" y="283.7" font-size="16.6" textLength="18.2" lengthAdjust="spacingAndGlyphs">=4</text>
</g>
</svg>
</body></html>
